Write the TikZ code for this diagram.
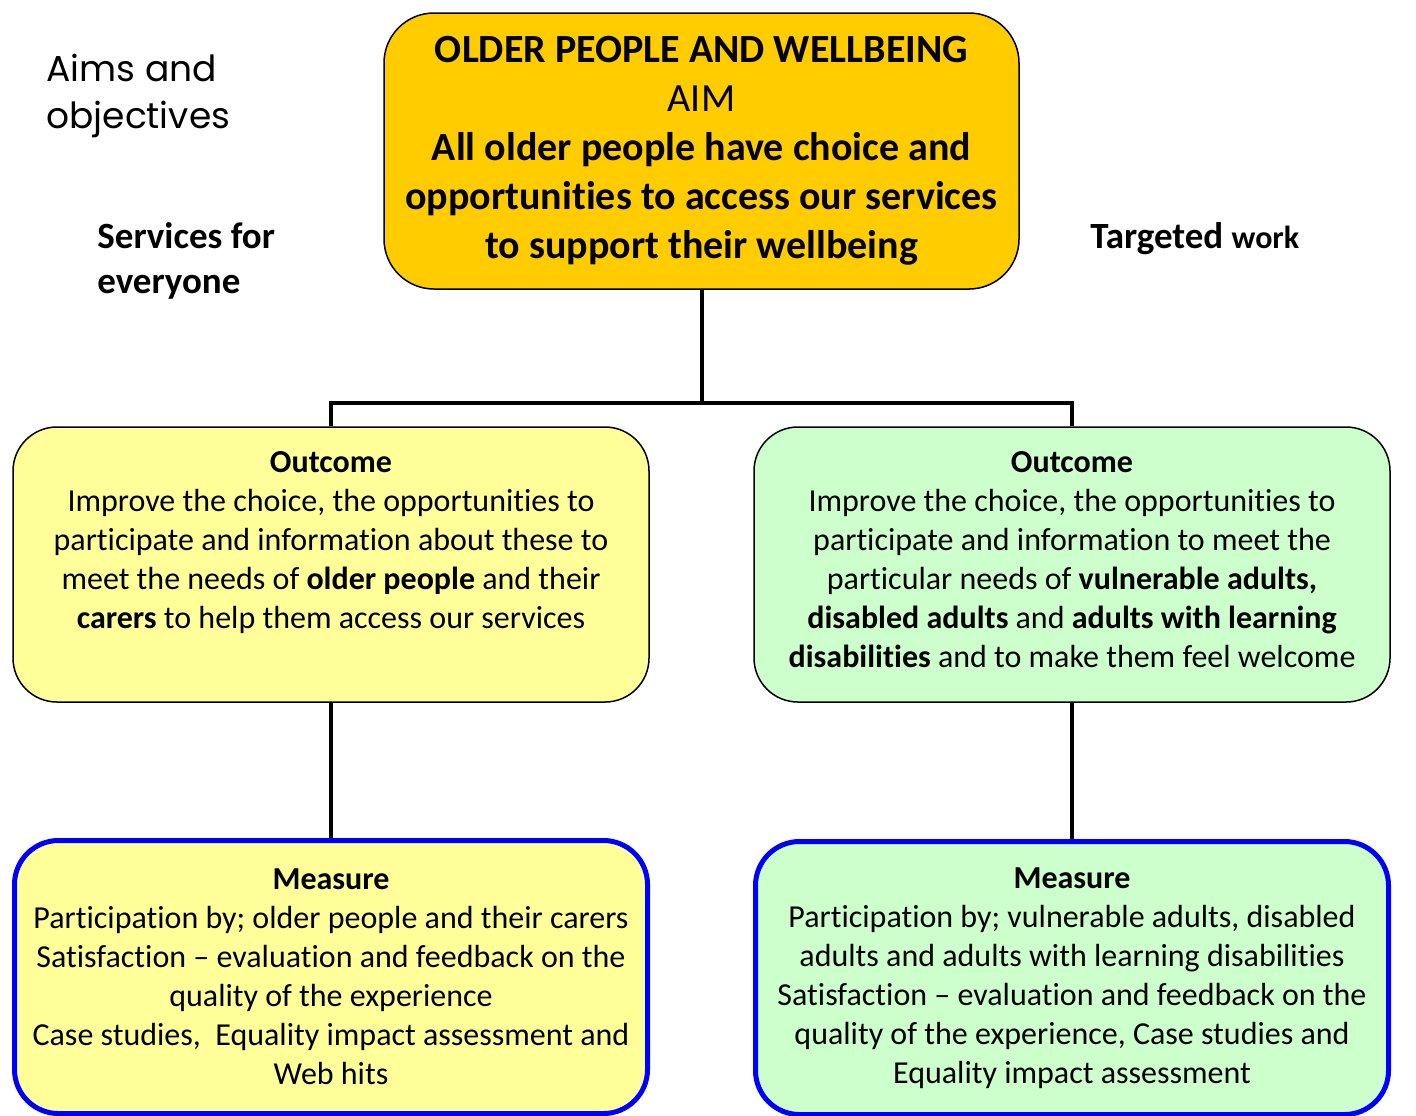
\documentclass[tikz,border=0pt]{standalone}
\usepackage{fontspec}
\setmainfont{Carlito}[Ligatures=NoCommon]
\newfontfamily\headfont{Poppins}
\usetikzlibrary{positioning}
\tikzset{
  box/.style={draw=black,line width=0.75pt,rounded corners=22pt,inner sep=0pt},
  link/.style={draw=black,line width=2pt},
}
\begin{document}
\begin{tikzpicture}[x=0.5pt,y=-0.5pt]
  \definecolor{aimgold}{RGB}{255,204,0}
  \definecolor{paleyellow}{RGB}{255,255,153}
  \definecolor{palegreen}{RGB}{204,255,204}
  \definecolor{measblue}{RGB}{0,0,255}
  \tikzset{
    aimbox/.style={box,fill=aimgold,rounded corners=25pt,minimum width=317.5pt,minimum height=138pt,
      align=center,font=\fontsize{20}{24.5}\selectfont},
    outbox/.style={box,fill=#1,minimum width=318pt,minimum height=137.5pt},
    measbox/.style={box,draw=measblue,line width=2.5pt,fill=#1,minimum width=316.5pt,minimum height=136.5pt,
      align=center,font=\fontsize{16}{19.5}\selectfont},
    bodytext/.style={align=center,inner sep=0pt,font=\fontsize{16}{19.5}\selectfont},
  }
  \useasboundingbox (0,0) rectangle (1416,1115);
  % aim
  \node[aimbox] (aim) at (701.5,151) {\textbf{OLDER PEOPLE AND WELLBEING}\\AIM\\
    \textbf{All older people have choice and}\\\textbf{opportunities to access our services}\\
    \textbf{to support their wellbeing}};
  % outcomes
  \node[outbox=paleyellow] (lout) at (331,564.5) {};
  \node[outbox=palegreen] (rout) at (1072,564.5) {};
  \node[bodytext,below=12.5pt of lout.north] (louttext) {\textbf{Outcome}\\Improve the choice, the opportunities to\\
    participate and information about these to\\meet the needs of \textbf{older people} and their\\
    \textbf{carers} to help them access our services};
  \node[bodytext,below=12.5pt of rout.north] (routtext) {\textbf{Outcome}\\Improve the choice, the opportunities to\\
    participate and information to meet the\\particular needs of \textbf{vulnerable adults,}\\
    \textbf{disabled adults} and \textbf{adults with learning}\\\textbf{disabilities} and to make them feel welcome};
  % measures
  \node[measbox=paleyellow] (lmeas) at (331,977) {\textbf{Measure}\\Participation by; older people and their carers\\
    Satisfaction – evaluation and feedback on the\\quality of the experience\\
    Case studies,\ \ Equality impact assessment and\\Web hits};
  \node[measbox=palegreen] (rmeas) at (1072,978) {\textbf{Measure}\\Participation by; vulnerable adults, disabled\\
    adults and adults with learning disabilities\\Satisfaction – evaluation and feedback on the\\
    quality of the experience, Case studies and\\Equality impact assessment};
  % side labels
  \node[anchor=north west,align=left,inner sep=0pt,font=\headfont\fontsize{18}{23.5}\selectfont] (aims) at (46,54) {Aims and\\objectives};
  \node[anchor=north west,align=left,inner sep=0pt,font=\bfseries\fontsize{18.5}{22.5}\selectfont] (every) at (97,222) {Services for\\everyone};
  \node[anchor=north west,inner sep=0pt,font=\bfseries\fontsize{18.5}{22.5}\selectfont] (target) at (1090,222) {Targeted {\fontsize{16}{19.5}\selectfont work}};
  % connectors
  \coordinate (split) at (701.5,403);
  \draw[link] (aim.south) -- (split);
  \foreach \o/\m in {lout/lmeas,rout/rmeas} {
    \draw[link] (split) -| (\o.north);
    \draw[link] (\o.south) -- (\m.north);
  }
\end{tikzpicture}
\end{document}
